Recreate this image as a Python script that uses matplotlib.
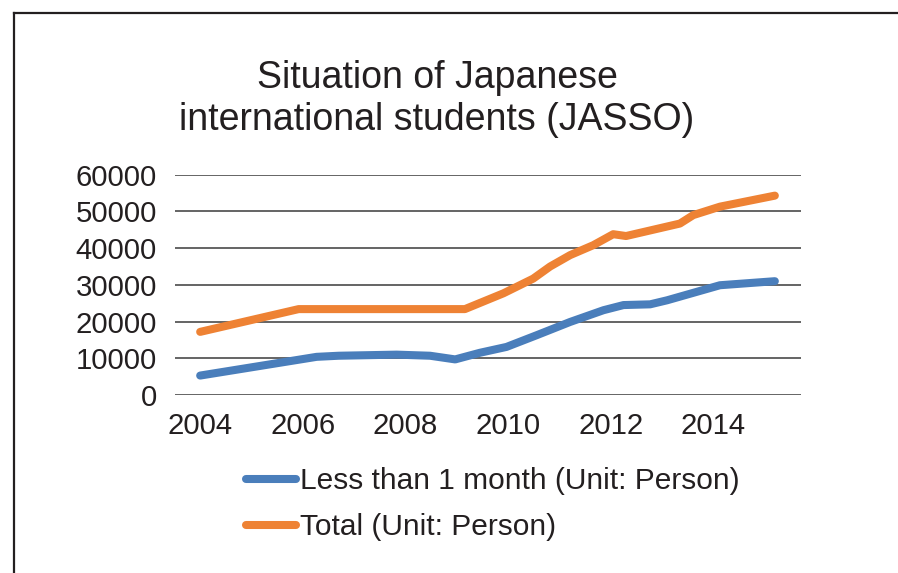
import matplotlib
matplotlib.use('Agg')
import matplotlib.pyplot as plt
from matplotlib.lines import Line2D

plt.rcParams['font.family'] = ['Liberation Sans', 'DejaVu Sans']

# values (year, persons)
SHORT_YEARS = [2004.0, 2006.27, 2006.7, 2007.83, 2008.48, 2008.97, 2009.45,
               2009.97, 2010.56, 2011.21, 2011.86, 2012.25, 2012.77, 2013.1,
               2014.13, 2015.2]
SHORT_VALS = [5300, 10400, 10700, 11000, 10700, 9700, 11500,
              13100, 16300, 19900, 23100, 24500, 24700, 25800,
              29900, 31000]

TOTAL_YEARS = [2004.0, 2005.92, 2009.16, 2009.91, 2010.49, 2010.82, 2011.21,
               2011.66, 2012.05, 2012.3, 2013.35, 2013.61, 2014.13, 2015.2]
TOTAL_VALS = [17200, 23400, 23400, 27700, 31700, 35000, 38100,
              40800, 43800, 43300, 46700, 49000, 51300, 54300]

X_TICKS = [2004, 2006, 2008, 2010, 2012, 2014]
Y_TICKS = [0, 10000, 20000, 30000, 40000, 50000, 60000]

TITLE = 'Situation of Japanese\ninternational students (JASSO)'
LABELS = ['Less than 1 month (Unit: Person)', 'Total (Unit: Person)']
COLORS = ['#4A7EBB', '#EE8234']

fig = plt.figure(figsize=(8.98, 5.73), dpi=100)
ax = fig.add_axes([0.1949, 0.3106, 0.6971, 0.3845])

ax.plot(SHORT_YEARS, SHORT_VALS, color=COLORS[0], lw=5.8,
        solid_capstyle='round', solid_joinstyle='round')
ax.plot(TOTAL_YEARS, TOTAL_VALS, color=COLORS[1], lw=5.8,
        solid_capstyle='round', solid_joinstyle='round')

ax.set_xlim(2003.51, 2015.71)
ax.set_ylim(0, 60000)
ax.set_xticks(X_TICKS)
ax.set_yticks(Y_TICKS)
ax.set_xticklabels([str(t) for t in X_TICKS])
ax.set_yticklabels([str(t) for t in Y_TICKS])
ax.tick_params(axis='both', length=0, labelsize=21.2, colors='#231f20')
ax.tick_params(axis='y', pad=13)
ax.tick_params(axis='x', pad=12)
ax.grid(axis='y', color='#3a3a3a', lw=1.1)
ax.set_axisbelow(True)
for s in ax.spines.values():
    s.set_visible(False)

fig.text(437 / 898, 1 - 99 / 573, TITLE, ha='center', va='center',
         fontsize=27, color='#231f20', linespacing=1.2)

handles = [Line2D([], [], color=c, lw=5.8, solid_capstyle='round') for c in COLORS]
fig.legend(handles, LABELS, loc='center left',
           bbox_to_anchor=(219 / 898, 1 - 504 / 573), frameon=False,
           fontsize=21.5, handlelength=1.67, handletextpad=0.13,
           labelspacing=0.6, labelcolor='#231f20')

# outer border (continues past the right and bottom edges)
fig.add_artist(Line2D([14 / 898, 14 / 898], [0, 1 - 13 / 573],
                      transform=fig.transFigure, color='#231f20', lw=1.6))
fig.add_artist(Line2D([14 / 898, 1], [1 - 13 / 573, 1 - 13 / 573],
                      transform=fig.transFigure, color='#231f20', lw=1.6))

fig.savefig('out.png', dpi=100)
